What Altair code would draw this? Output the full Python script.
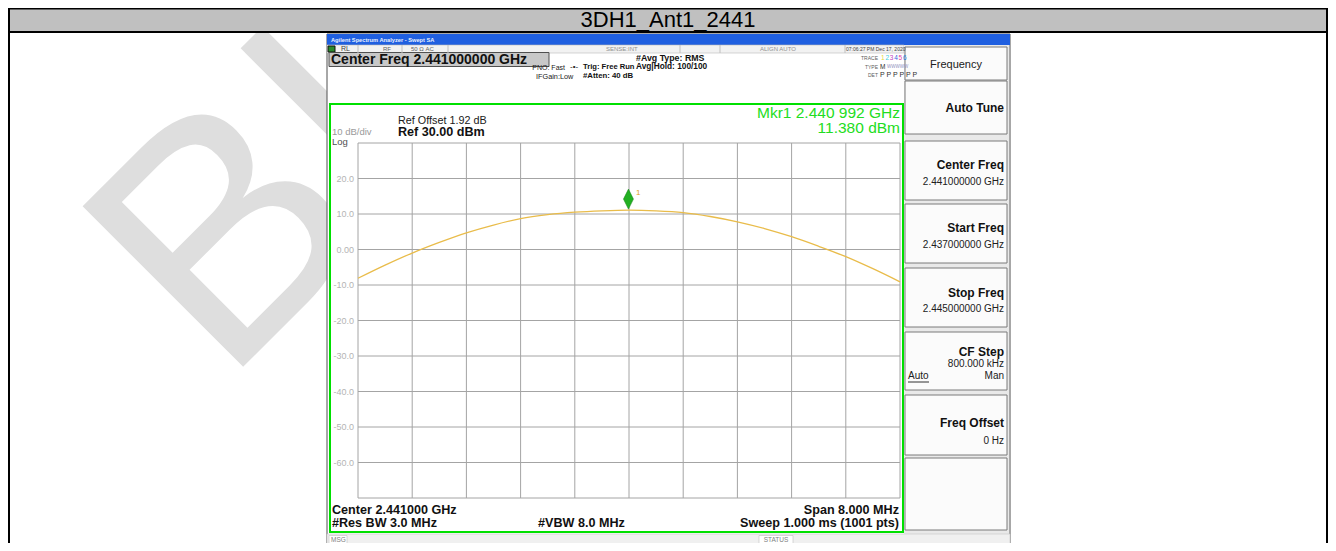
import altair as alt
import pandas as pd

# ---------------- data ----------------
freq_ghz = [2.4370, 2.4374, 2.4378, 2.4382, 2.4386, 2.4390, 2.4394, 2.4398,
            2.4402, 2.4406, 2.4410, 2.4414, 2.4418, 2.4422, 2.4426, 2.4430,
            2.4434, 2.4438, 2.4442, 2.4446, 2.4450]
level_dbm = [-8.1, -4.4, -1.0, 2.0, 4.7, 6.9, 8.7, 9.8,
             10.5, 10.9, 11.1, 10.9, 10.4, 9.3, 7.8, 5.9,
             3.6, 0.9, -2.0, -5.4, -9.1]
grid_freqs = [2.4370, 2.4378, 2.4386, 2.4394, 2.4402, 2.4410,
              2.4418, 2.4426, 2.4434, 2.4442, 2.4450]
ref_levels = [30, 20, 10, 0, -10, -20, -30, -40, -50, -60, -70]
label_levels = [20, 10, 0, -10, -20, -30, -40, -50, -60]
label_texts = ["20.0", "10.0", "0.00", "-10.0", "-20.0", "-30.0", "-40.0", "-50.0", "-60.0"]
marker_freq = [2.440992]
marker_level = [11.38]
title_text = "3DH1_Ant1_2441"

# ---------------- layout (page pixels) ----------------
PX0, PY0 = 358, 143          # graticule top-left on the page
PW, PH = 542, 355            # graticule size
SVG_W, SVG_H = 1320, 535     # svg size (page minus the 8px margins)


def X(v):
    return v - PX0


def Y(v):
    return v - PY0


FONT = "Liberation Sans"

# rectangles: x1, y1, x2, y2, fill, stroke, strokeWidth
rects = [
    (8, 8, 1336, 31, "#c0c0c0", "#c0c0c0", 0),
    (327, 34, 1010, 551, "#ffffff", "#505050", 1),
    (327, 34, 1010, 45, "#1f5fe0", "#1f5fe0", 0),
    (327, 45, 904, 53, "#f2f2f2", "#b8b8b8", 0.6),
    (328, 46, 335, 52, "#2a8a2a", "#111111", 1),
    (329, 52.5, 549, 66.5, "#c8c8c8", "#505050", 1),
    (330, 104, 903, 532, "#ffffff", "#00e000", 2),
    (904, 45, 1009, 534, "#e9e9e9", "#e9e9e9", 0),
    (905, 47, 1007, 80, "#fbfbfb", "#7a7a7a", 1),
    (905, 81, 1007, 134, "#fbfbfb", "#7a7a7a", 1),
    (905, 141, 1007, 200, "#fbfbfb", "#7a7a7a", 1),
    (905, 204, 1007, 263, "#fbfbfb", "#7a7a7a", 1),
    (905, 268, 1007, 327, "#fbfbfb", "#7a7a7a", 1),
    (905, 332, 1007, 390, "#fbfbfb", "#7a7a7a", 1),
    (905, 395, 1007, 455, "#fbfbfb", "#7a7a7a", 1),
    (905, 458, 1007, 530, "#fbfbfb", "#7a7a7a", 1),
    (327, 534, 1010, 551, "#f0f0f0", "#c8c8c8", 0.6),
    (329, 535.5, 347, 551, "#ffffff", "#c0c0c0", 0.6),
    (759, 535.5, 793, 551, "#ffffff", "#c0c0c0", 0.6),
]
rect_df = pd.DataFrame(
    [dict(x=X(a), x2=X(c), y=Y(b), y2=Y(d), fill=f, stroke=s, sw=w)
     for a, b, c, d, f, s, w in rects])

# lines: x1, y1, x2, y2, colour, width
rules = [
    (8, 8.5, 1336, 8.5, "#000000", 2),
    (8, 32, 1336, 32, "#000000", 2),
    (9, 8, 9, 551, "#000000", 2),
    (1327, 8, 1327, 551, "#000000", 2),
    (358, 45, 358, 53, "#c0c0c0", 1),
    (402, 45, 402, 53, "#c0c0c0", 1),
    (448, 45, 448, 53, "#c0c0c0", 1),
    (680, 45, 680, 53, "#c0c0c0", 1),
    (720, 45, 720, 53, "#c0c0c0", 1),
    (845, 45, 845, 53, "#c0c0c0", 1),
    (908, 382, 929, 382, "#303030", 1),
]
rule_df = pd.DataFrame(
    [dict(x=X(a), y=Y(b), x2=X(c), y2=Y(d), c=col, sw=w)
     for a, b, c, d, col, w in rules])

# texts: text, x, y(centre), size, colour, weight, align
texts = [
    (title_text, 668, 19.5, 22, "#000000", "normal", "center"),
    ("Agilent Spectrum Analyzer - Swept SA", 331, 40, 5.7, "#e8f0ff", "bold", "left"),
    ("RL", 341, 49, 7, "#404040", "normal", "left"),
    ("RF", 383, 49, 6, "#606060", "normal", "left"),
    ("50 Ω   AC", 411, 49, 6, "#606060", "normal", "left"),
    ("SENSE:INT", 606, 49, 6, "#909090", "normal", "left"),
    ("ALIGN AUTO", 760, 49, 6, "#909090", "normal", "left"),
    ("07:06:27 PM Dec 17, 2020", 846, 49, 5, "#404040", "normal", "left"),
    ("Center Freq 2.441000000 GHz", 331, 59.5, 14, "#111111", "bold", "left"),
    ("#Avg Type: RMS", 636, 58, 8.8, "#111111", "bold", "left"),
    ("Avg|Hold: 100/100", 636, 67, 8.3, "#111111", "bold", "left"),
    ("Trig: Free Run", 583, 67, 7.6, "#111111", "bold", "left"),
    ("#Atten: 40 dB", 583, 76, 7.8, "#111111", "bold", "left"),
    ("PNO: Fast", 565, 68, 7, "#202020", "normal", "right"),
    ("-•-", 570, 67, 8, "#202020", "normal", "left"),
    ("IFGain:Low", 536, 76.5, 7.3, "#202020", "normal", "left"),
    ("TRACE", 878, 58, 5, "#606060", "normal", "right"),
    ("TYPE", 878, 67, 5, "#606060", "normal", "right"),
    ("DET", 878, 75, 5, "#606060", "normal", "right"),
    ("M", 880, 67, 6.5, "#303030", "normal", "left"),
    ("WWWWW", 887, 67, 4.5, "#9090c0", "normal", "left"),
    ("P P P P P P", 880, 75, 7, "#303030", "normal", "left"),
    ("Ref Offset 1.92 dB", 398, 120.5, 10.8, "#202020", "normal", "left"),
    ("Ref 30.00 dBm", 398, 131.5, 12.6, "#111111", "bold", "left"),
    ("10 dB/div", 332, 131.5, 9.5, "#9a9a9a", "normal", "left"),
    ("Log", 332, 141.5, 9.5, "#505050", "normal", "left"),
    ("Mkr1 2.440 992 GHz", 900, 112.5, 15.5, "#22dd22", "normal", "right"),
    ("11.380 dBm", 900, 127.5, 15.5, "#22dd22", "normal", "right"),
    ("1", 636, 192.5, 8, "#e0a020", "normal", "left"),
    ("Center 2.441000 GHz", 332, 509.5, 12.6, "#111111", "bold", "left"),
    ("#Res BW 3.0 MHz", 332, 522.5, 12.6, "#111111", "bold", "left"),
    ("#VBW 8.0 MHz", 538, 522.5, 12.6, "#111111", "bold", "left"),
    ("Span 8.000 MHz", 899, 509.5, 12.6, "#111111", "bold", "right"),
    ("Sweep  1.000 ms (1001 pts)", 899, 522.5, 12.6, "#111111", "bold", "right"),
    ("MSG", 331, 539.5, 6.5, "#808080", "normal", "left"),
    ("STATUS", 776, 539.5, 6.5, "#808080", "normal", "center"),
    ("Frequency", 956, 65, 11, "#202020", "normal", "center"),
    ("Auto Tune", 1004, 108, 12, "#111111", "bold", "right"),
    ("Center Freq", 1004, 165, 12, "#111111", "bold", "right"),
    ("2.441000000 GHz", 1004, 182, 10, "#202020", "normal", "right"),
    ("Start Freq", 1004, 228, 12, "#111111", "bold", "right"),
    ("2.437000000 GHz", 1004, 244.5, 10, "#202020", "normal", "right"),
    ("Stop Freq", 1004, 293, 12, "#111111", "bold", "right"),
    ("2.445000000 GHz", 1004, 308.5, 10, "#202020", "normal", "right"),
    ("CF Step", 1004, 352, 12, "#111111", "bold", "right"),
    ("800.000 kHz", 1004, 363.5, 10, "#202020", "normal", "right"),
    ("Auto", 908, 375.5, 10, "#202020", "normal", "left"),
    ("Man", 1004, 375.5, 10, "#202020", "normal", "right"),
    ("Freq Offset", 1004, 423, 12, "#111111", "bold", "right"),
    ("0 Hz", 1004, 441, 10, "#202020", "normal", "right"),
]
text_df = pd.DataFrame(
    [dict(t=t, x=X(a), y=Y(b), s=s, c=c, w=w, al=al)
     for t, a, b, s, c, w, al in texts])

trace_colours = [("1", "#e8d840"), ("2", "#40d0e0"), ("3", "#c040c0"),
                 ("4", "#4060e0"), ("5", "#e040a0"), ("6", "#2080e0")]
trace_df = pd.DataFrame([dict(t=t, x=X(881 + 4.4 * i), y=Y(58), c=c)
                         for i, (t, c) in enumerate(trace_colours)])

xs = dict(scale=None, axis=None)

# ---------------- decoration layers ----------------
watermark = alt.Chart(pd.DataFrame([dict(t="BI", x=X(224), y=Y(386))])).mark_text(
    align="left", baseline="alphabetic", angle=315, fontSize=330,
    font=FONT, color="#dedede"
).encode(x=alt.X("x:Q", **xs), y=alt.Y("y:Q", **xs), text="t:N")

rect_layer = alt.Chart(rect_df).mark_rect().encode(
    x=alt.X("x:Q", **xs), x2="x2:Q", y=alt.Y("y:Q", **xs), y2="y2:Q",
    fill=alt.Fill("fill:N", scale=None), stroke=alt.Stroke("stroke:N", scale=None),
    strokeWidth=alt.StrokeWidth("sw:Q", scale=None))

rule_layer = alt.Chart(rule_df).mark_rule().encode(
    x=alt.X("x:Q", **xs), x2="x2:Q", y=alt.Y("y:Q", **xs), y2="y2:Q",
    color=alt.Color("c:N", scale=None), strokeWidth=alt.StrokeWidth("sw:Q", scale=None))

text_layers = []
for (w, al), g in text_df.groupby(["w", "al"]):
    text_layers.append(
        alt.Chart(g).mark_text(align=al, baseline="middle", font=FONT, fontWeight=w).encode(
            x=alt.X("x:Q", **xs), y=alt.Y("y:Q", **xs), text="t:N",
            color=alt.Color("c:N", scale=None), size=alt.Size("s:Q", scale=None)))

trace_num_layer = alt.Chart(trace_df).mark_text(
    align="left", baseline="middle", font=FONT, fontSize=6.5).encode(
    x=alt.X("x:Q", **xs), y=alt.Y("y:Q", **xs), text="t:N",
    color=alt.Color("c:N", scale=None))

# ---------------- spectrum layers (real scales) ----------------
fscale = alt.Scale(domain=[2.437, 2.445], nice=False, zero=False)
lscale = alt.Scale(domain=[-70, 30], nice=False, zero=False)

vgrid = alt.Chart(pd.DataFrame({"freq": grid_freqs})).mark_rule(
    color="#a4a4a4", strokeWidth=1).encode(
    x=alt.X("freq:Q", scale=fscale, axis=None))
hgrid = alt.Chart(pd.DataFrame({"level": ref_levels})).mark_rule(
    color="#a4a4a4", strokeWidth=1).encode(
    y=alt.Y("level:Q", scale=lscale, axis=None))
frame = alt.Chart(pd.DataFrame([{}])).mark_rect(
    fill=None, stroke="#6e6e6e", strokeWidth=1.3).encode(
    x=alt.value(0), x2=alt.value(PW), y=alt.value(0), y2=alt.value(PH))
ylabels = alt.Chart(pd.DataFrame({"level": label_levels, "lab": label_texts})).mark_text(
    align="right", baseline="middle", font=FONT, fontSize=9, color="#b4b4b4").encode(
    x=alt.value(-4), y=alt.Y("level:Q", scale=lscale, axis=None), text="lab:N")

spec_df = pd.DataFrame({"freq": freq_ghz, "level": level_dbm})
trace = alt.Chart(spec_df).mark_line(
    color="#e9bc4a", strokeWidth=1.3, interpolate="catmull-rom").encode(
    x=alt.X("freq:Q", scale=fscale, axis=None),
    y=alt.Y("level:Q", scale=lscale, axis=None))

mk_df = pd.DataFrame({"freq": marker_freq, "level": marker_level})
marker = alt.Chart(mk_df).mark_point(
    shape="M0,-2L0.5,-1L0,0L-0.5,-1Z", size=400, filled=True,
    color="#22b022", opacity=1, stroke="#108010", strokeWidth=0.5
).encode(x=alt.X("freq:Q", scale=fscale, axis=None),
         y=alt.Y("level:Q", scale=lscale, axis=None))

chart = alt.layer(
    watermark, rect_layer, rule_layer, vgrid, hgrid, frame, ylabels, trace, marker,
    *text_layers, trace_num_layer
).properties(
    width=PW, height=PH,
    padding={"left": PX0 - 8, "top": PY0 - 8,
             "right": SVG_W - (PX0 - 8) - PW, "bottom": SVG_H - (PY0 - 8) - PH},
    autosize=alt.AutoSizeParams(type="none"),
    background="#ffffff",
).configure_view(stroke=None, fill=None)

chart.save("out.html", embed_options={"renderer": "svg", "actions": False})
